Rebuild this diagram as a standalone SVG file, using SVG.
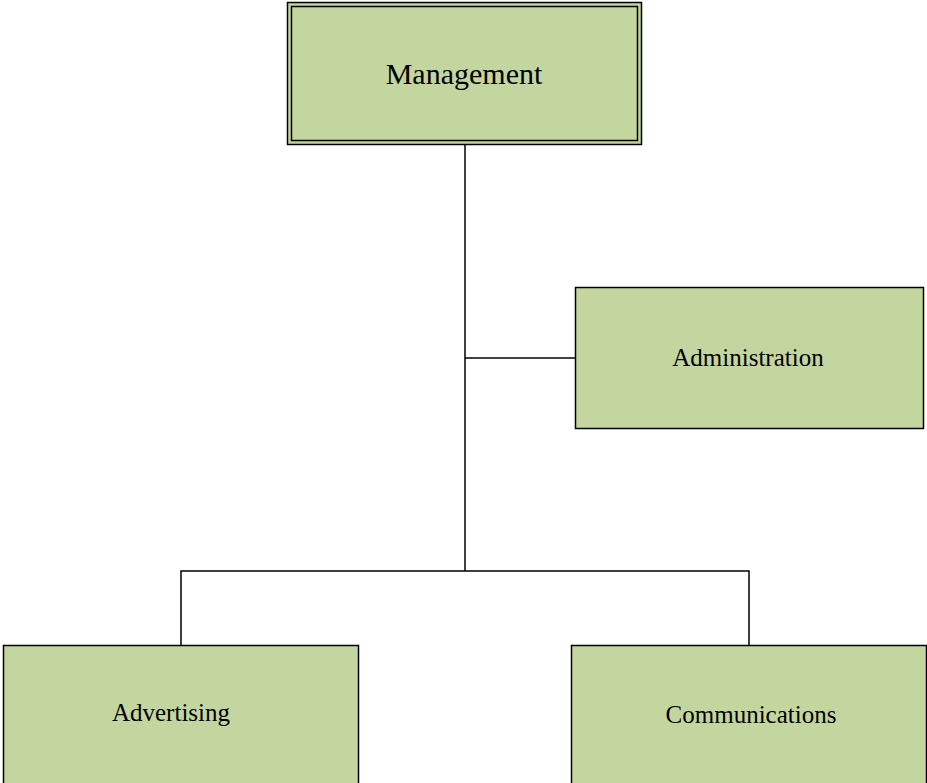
<svg xmlns="http://www.w3.org/2000/svg" width="927" height="783" viewBox="0 0 927 783">
  <style>
    .box { fill: #C4D69F; stroke: #000; stroke-width: 1.5; }
    .inner { fill: none; stroke: #000; stroke-width: 1.5; }
    .lbl { font-family: "Liberation Serif", "Times New Roman", serif; fill: #000; text-anchor: middle; }
    .wire { fill: none; stroke: #000; stroke-width: 1.5; }
  </style>
  <rect width="927" height="783" fill="#fff"/>
  <g id="connectors">
    <line class="wire" x1="465" y1="145" x2="465" y2="571"/>
    <line class="wire" x1="465" y1="358" x2="575" y2="358"/>
    <polyline class="wire" points="181,645 181,571 749,571 749,645"/>
  </g>
  <g id="management">
    <rect class="box" x="287.5" y="2.5" width="354" height="142"/>
    <rect class="inner" x="291.5" y="6.5" width="346" height="134"/>
    <text class="lbl" x="464" y="84" font-size="30">Management</text>
  </g>
  <g id="administration">
    <rect class="box" x="575.5" y="287.5" width="348" height="141"/>
    <text class="lbl" x="748" y="366" font-size="25">Administration</text>
  </g>
  <g id="advertising">
    <rect class="box" x="3.5" y="645.5" width="355" height="145"/>
    <text class="lbl" x="171" y="721" font-size="25">Advertising</text>
  </g>
  <g id="communications">
    <rect class="box" x="571.5" y="645.5" width="355" height="145"/>
    <text class="lbl" x="751" y="723" font-size="25">Communications</text>
  </g>
</svg>
